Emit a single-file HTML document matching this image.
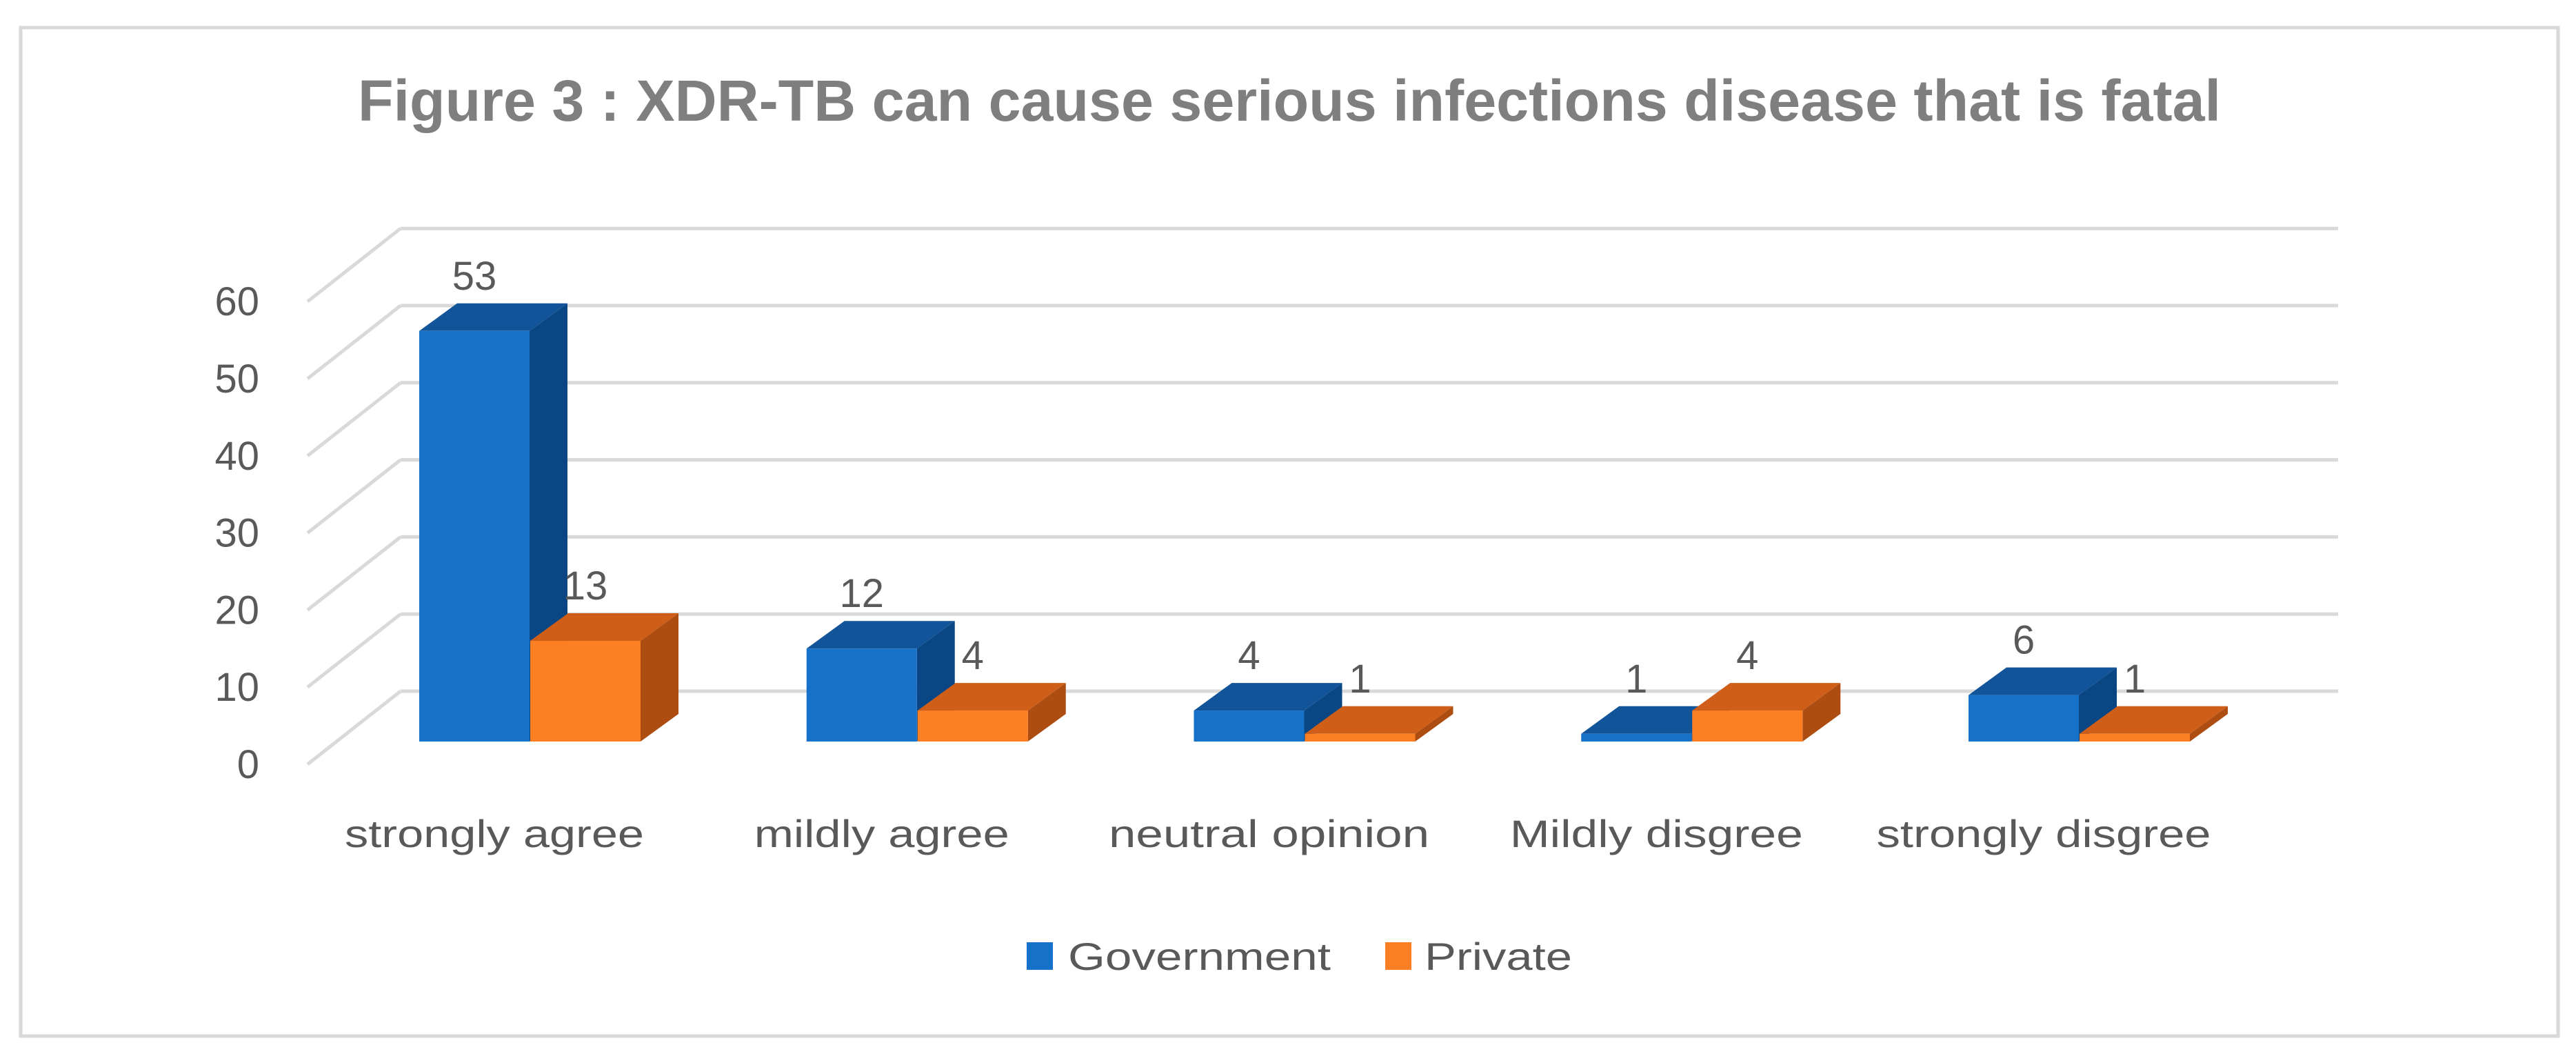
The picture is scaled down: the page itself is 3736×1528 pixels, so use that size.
<!DOCTYPE html>
<html><head><meta charset="utf-8"><style>
html,body{margin:0;padding:0;background:#fff}
svg{display:block}
</style></head><body>
<svg id="chart" width="3736" height="1528" viewBox="0 0 3736 1528" xmlns="http://www.w3.org/2000/svg">
<rect x="30" y="40" width="3680" height="1462" fill="#fff" stroke="#d9d9d9" stroke-width="5"/>
<text x="1870" y="175" text-anchor="middle" font-family="Liberation Sans, sans-serif" font-weight="bold" font-size="84" fill="#7f7f7f" textLength="2702" lengthAdjust="spacingAndGlyphs">Figure 3 : XDR-TB can cause serious infections disease that is fatal</text>
<g id="grid"></g>
<g id="ylabels"></g>
<g id="bars"></g>
<g id="vals"></g>
<g id="xlabels"></g>
<g>
<rect x="1489" y="1366" width="38" height="40" fill="#1672c8"/>
<text x="1549" y="1406" font-family="Liberation Sans, sans-serif" font-size="56" fill="#595959" textLength="381" lengthAdjust="spacingAndGlyphs">Government</text>
<rect x="2009" y="1366" width="38" height="40" fill="#fd7f24"/>
<text x="2066" y="1406" font-family="Liberation Sans, sans-serif" font-size="56" fill="#595959" textLength="214" lengthAdjust="spacingAndGlyphs">Private</text>
</g>
</svg>
<script>
const categories = ["strongly agree","mildly agree","neutral opinion","Mildly disgree","strongly disgree"];
const government = [53,12,4,1,6];
const privateVals = [13,4,1,4,1];
const yTicks = [0,10,20,30,40,50,60];
const labelWidths = [434,370,465,425,485];

const NS="http://www.w3.org/2000/svg";
function el(tag, attrs, parent){const e=document.createElementNS(NS,tag);for(const k in attrs)e.setAttribute(k,attrs[k]);parent.appendChild(e);return e;}
const backY = v => 1002 - v*11.18;
const frontBase = 1075, frontK = 11.23;
const frontY = v => frontBase - v*frontK;
const catX = i => 608 + i*561.75;
const BW = 160, DX = 55, DY = -40;

const grid=document.getElementById('grid');
const yl=document.getElementById('ylabels');
yTicks.forEach(t=>{
  const y=backY(t);
  const l=el('line',{x1:581,y1:y,x2:3391,y2:y,stroke:'#d9d9d9','stroke-width':5},grid);
  
  
  const d=el('line',{x1:581,y1:y,x2:446,y2:y+106,stroke:'#d9d9d9','stroke-width':5},grid);
  
  
  const tx=el('text',{x:376,y:y+106+20,'text-anchor':'end','font-family':'Liberation Sans, sans-serif','font-size':58,fill:'#595959'},yl);
  tx.textContent=t;
  
  
});

const bars=document.getElementById('bars');
const vals=document.getElementById('vals');
function bar3d(x,v,cols,name){
  const g=el('g',{},bars);
  
  
  const yt=frontY(v);
  el('polygon',{points:`${x+BW},${yt} ${x+BW+DX},${yt+DY} ${x+BW+DX},${frontBase+DY} ${x+BW},${frontBase}`,fill:cols[2]},g);
  el('polygon',{points:`${x},${yt} ${x+DX},${yt+DY} ${x+BW+DX},${yt+DY} ${x+BW},${yt}`,fill:cols[1]},g);
  el('rect',{x:x,y:yt,width:BW,height:frontBase-yt,fill:cols[0]},g);
  const t=el('text',{x:x+BW/2,y:yt+DY-20,'text-anchor':'middle','font-family':'Liberation Sans, sans-serif','font-size':58,fill:'#595959'},vals);
  t.textContent=v;
  
  
}
const xl=document.getElementById('xlabels');
categories.forEach((c,i)=>{
  const x=catX(i);
  bar3d(x,government[i],['#1672c8','#12549a','#0a4683'],'bar-government-'+i);
  bar3d(x+BW+1,privateVals[i],['#fd7f24','#cf5f18','#ad4d12'],'bar-private-'+i);
  const t=el('text',{x:x+BW-51,y:1228,'text-anchor':'middle','font-family':'Liberation Sans, sans-serif','font-size':56,fill:'#595959',textLength:labelWidths[i],lengthAdjust:'spacingAndGlyphs'},xl);
  t.textContent=c;
  
  
});
</script>
</body></html>
